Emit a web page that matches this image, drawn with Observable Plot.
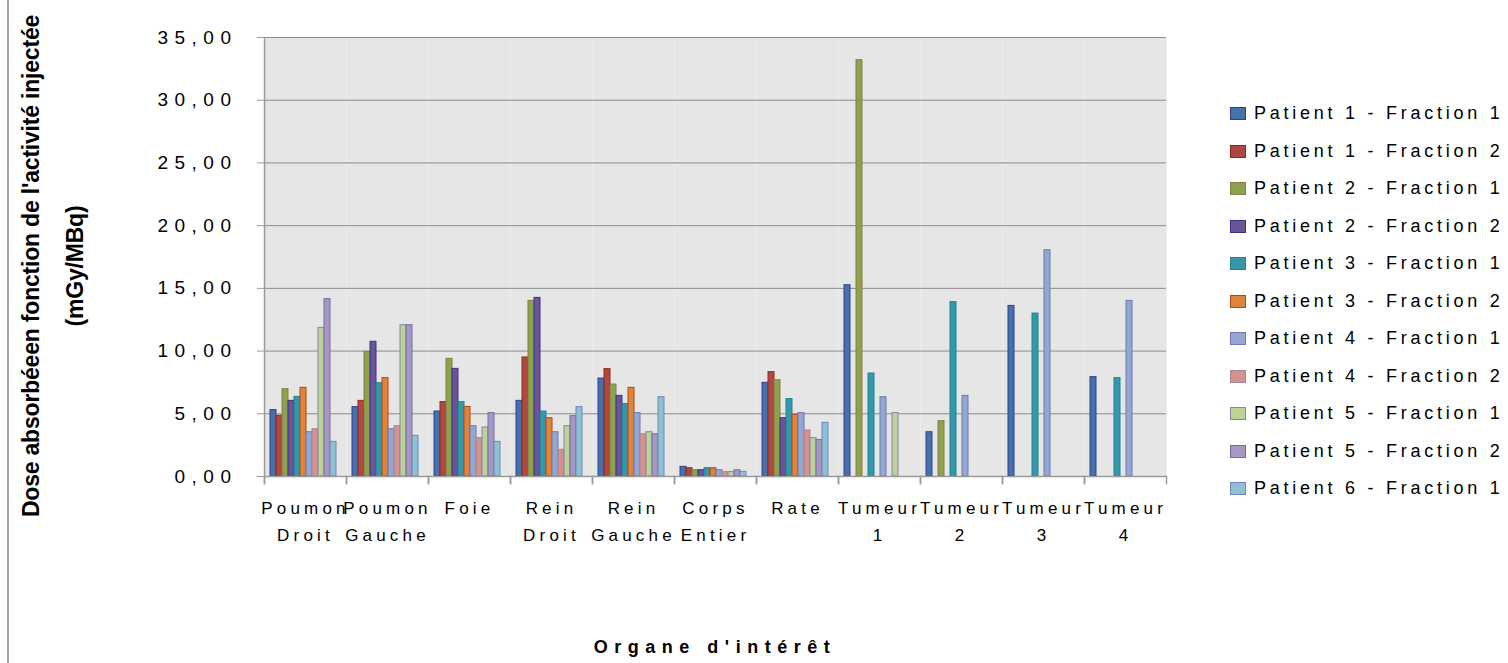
<!DOCTYPE html>
<html>
<head>
<meta charset="utf-8">
<script src="https://cdn.jsdelivr.net/npm/d3@7"></script>
<script src="https://cdn.jsdelivr.net/npm/@observablehq/plot@0.6"></script>
<style>
  html, body { margin: 0; padding: 0; background: #fff; }
  #wrap { position: relative; width: 1508px; height: 663px; overflow: hidden; font-family: "Liberation Sans", Arial, sans-serif; }
  #border { position: absolute; left: 7px; top: 0; width: 0; height: 663px; border-left: 2px solid #a6a6a6; }
  #ytitle { position: absolute; left: -247px; top: 222px; width: 600px; height: 88px; transform: rotate(-90deg); transform-origin: 50% 50%;
            text-align: center; font-weight: bold; font-size: 23px; line-height: 44px; letter-spacing: -0.2px; color: #000; }
  #xtitle { position: absolute; left: 262px; width: 906px; top: 637px; text-align: center; font-weight: bold; font-size: 18px; letter-spacing: 6.5px; color: #000; }
  #legend { position: absolute; left: 1230px; top: 95px; }
  .row { height: 37.5px; display: flex; align-items: center; font-size: 18px; letter-spacing: 3.75px; color: #000; white-space: nowrap; }
  .sw { width: 14px; height: 11px; margin-right: 8px; border: 1px solid; box-sizing: content-box; }
  svg text { letter-spacing: 4px; }
  g[aria-label="y-axis tick label"] text { letter-spacing: 6.5px; }
  g[aria-label="fx-axis tick label"] text { letter-spacing: 4.2px; }
</style>
</head>
<body>
<div id="wrap">
  <div id="border"></div>
  <div id="chart"></div>
  <div id="ytitle">Dose absorbéeen fonction de l'activité injectée<br>(mGy/MBq)</div>
  <div id="xtitle">Organe d'intérêt</div>
  <div id="legend"></div>
</div>
<script>
const organs = ["Poumon Droit","Poumon Gauche","Foie","Rein Droit","Rein Gauche","Corps Entier","Rate","Tumeur 1","Tumeur 2","Tumeur 3","Tumeur 4"];
const organLabels = ["Poumon\nDroit","Poumon\nGauche","Foie","Rein\nDroit","Rein\nGauche","Corps\nEntier","Rate","Tumeur\n1","Tumeur\n2","Tumeur\n3","Tumeur\n4"];
const series = ["Patient 1 - Fraction 1","Patient 1 - Fraction 2","Patient 2 - Fraction 1","Patient 2 - Fraction 2","Patient 3 - Fraction 1","Patient 3 - Fraction 2","Patient 4 - Fraction 1","Patient 4 - Fraction 2","Patient 5 - Fraction 1","Patient 5 - Fraction 2","Patient 6 - Fraction 1"];
const fills   = ["#4671AA","#AE4843","#8AA34C","#6B5595","#3797AA","#DE843C","#93A8D1","#D5918F","#BED196","#A798C1","#8FC1D6"];
const strokes = ["#2F3E95","#8E2A14","#8C7B45","#3A318E","#1B8590","#B04B12","#6F78B4","#A88598","#8088A8","#6E6DA8","#6F86B6"];

const p1f1 = [5.29, 5.53, 5.18, 6.03, 7.81, 0.77, 7.47, 15.25, 3.53, 13.60, 7.92];
const p1f2 = [4.84, 6.03, 5.93, 9.49, 8.56, 0.66, 8.32, null, null, null, null];
const p2f1 = [6.96, 9.94, 9.38, 14.00, 7.33, 0.50, 7.68, 33.19, 4.41, null, null];
const p2f2 = [6.03, 10.74, 8.58, 14.24, 6.43, 0.50, 4.65, null, null, null, null];
const p3f1 = [6.35, 7.44, 5.93, 5.18, 5.77, 0.66, 6.17, 8.21, 13.90, 12.99, 7.84];
const p3f2 = [7.07, 7.84, 5.55, 4.65, 7.07, 0.66, 4.92, null, null, null, null];
const p4f1 = [3.53, 3.77, 4.01, 3.53, 5.05, 0.50, 5.05, 6.32, 6.43, 18.04, 14.00];
const p4f2 = [3.77, 4.01, 3.06, 2.13, 3.37, 0.35, 3.67, null, null, null, null];
const p5f1 = [11.85, 12.06, 3.91, 4.01, 3.53, 0.35, 3.06, 5.05, null, null, null];
const p5f2 = [14.14, 12.06, 5.05, 4.81, 3.37, 0.50, 2.92, null, null, null, null];
const p6f1 = [2.76, 3.24, 2.76, 5.53, 6.32, 0.37, 4.28, null, null, null, null];
const values = [p1f1, p1f2, p2f1, p2f2, p3f1, p3f2, p4f1, p4f2, p5f1, p5f2, p6f1];
const yTicks = [0, 5, 10, 15, 20, 25, 30, 35];

const data = [];
series.forEach((s, si) => organs.forEach((o, oi) => {
  const v = values[si][oi];
  if (v != null) data.push({organ: o, series: s, value: v, fill: fills[si], stroke: strokes[si]});
}));

const chart = Plot.plot({
  width: 1508, height: 663,
  marginLeft: 262, marginRight: 340, marginTop: 37, marginBottom: 187,
  style: {fontFamily: "'Liberation Sans', Arial, sans-serif", fontSize: "17px", background: "transparent", color: "#000"},
  fx: {domain: organs, padding: 0, label: null, axis: null},
  x: {domain: series, paddingInner: 0, paddingOuter: 0.89, align: 0.35, axis: null},
  y: {domain: [0, 35], label: null, axis: null},
  color: {type: "identity"},
  marks: [
    Plot.frame({fill: "#e6e6e6", stroke: null}),
    Plot.gridY(yTicks, {stroke: "#8c8c8c", strokeOpacity: 1, strokeWidth: 1}),
    Plot.barY(data, {fx: "organ", x: "series", y: "value", fill: "fill", stroke: "stroke", strokeWidth: 1}),
    Plot.ruleY([0], {stroke: "#9a9a9a", strokeWidth: 1.5}),
    Plot.frame({anchor: "left", facet: "super", stroke: "#9a9a9a", strokeWidth: 1.5, insetBottom: -7}),
    Plot.frame({anchor: "left", stroke: "#9a9a9a", strokeWidth: 1.5, insetTop: 439, insetBottom: -7}),
    Plot.frame({anchor: "right", stroke: "#9a9a9a", strokeWidth: 1.5, insetTop: 439, insetBottom: -7}),
    Plot.axisY(yTicks, {anchor: "left", tickSize: 7, tickPadding: 20, stroke: "#9a9a9a", fontSize: 19,
      tickFormat: d => d.toFixed(2).replace(".", ",")}),
    Plot.axisFx({anchor: "bottom", tickSize: 0, tickPadding: 19, lineHeight: 1.55, fontSize: 17, label: null,
      tickFormat: d => organLabels[organs.indexOf(d)]})
  ]
});
document.getElementById("chart").appendChild(chart);

const legend = document.getElementById("legend");
series.forEach((s, i) => {
  const row = document.createElement("div");
  row.className = "row";
  const sw = document.createElement("div");
  sw.className = "sw";
  sw.style.background = fills[i];
  sw.style.borderColor = strokes[i];
  row.appendChild(sw);
  row.appendChild(document.createTextNode(s));
  legend.appendChild(row);
});
</script>
</body>
</html>
